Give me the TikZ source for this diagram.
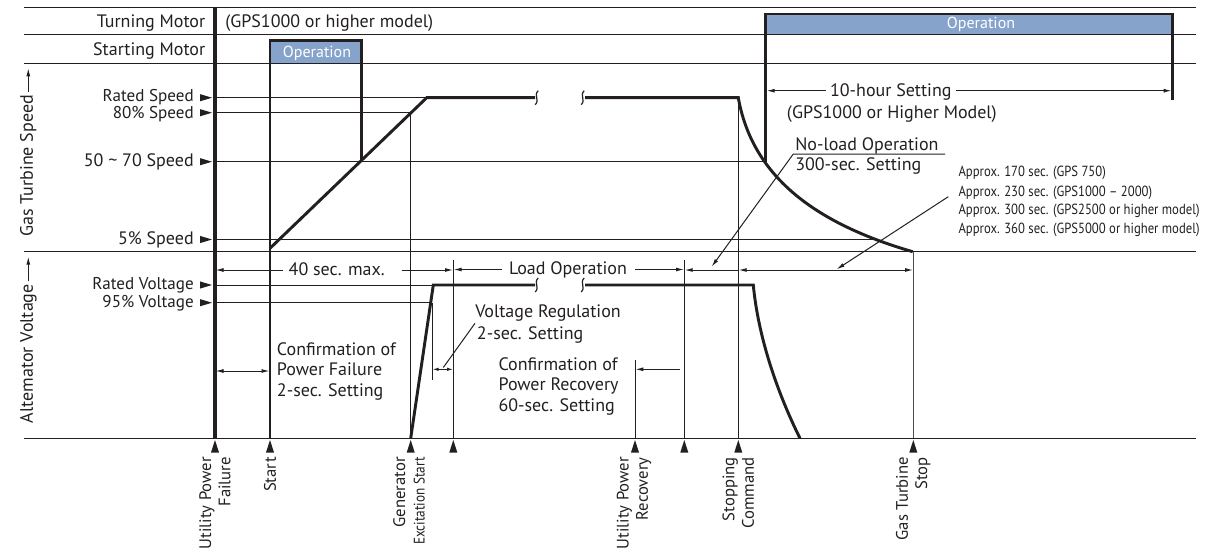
\documentclass[tikz,border=0pt]{standalone}
\usepackage{fontspec}
\setmainfont{PT Sans}
\newfontfamily\condfont[FakeStretch=0.865]{PT Sans}
\usetikzlibrary{arrows.meta}
\definecolor{ink}{RGB}{35,31,32}
\definecolor{opblue}{RGB}{134,163,203}
\begin{document}
\begin{tikzpicture}[x=0.75pt,y=-0.75pt,
  hair/.style={line width=0.75pt, draw=ink},
  bold/.style={line width=2.2pt, draw=ink, line join=miter},
  dimtip/.style={hair, -{Latex[length=6pt,width=3pt]}},
  dimboth/.style={hair, {Latex[length=6pt,width=3pt]}-{Latex[length=6pt,width=3pt]}},
  dimsmall/.style={hair, {Latex[length=4.5pt,width=2.6pt]}-{Latex[length=4.5pt,width=2.6pt]}},
  lbl/.style={font=\fontsize{13.5}{15.5}\selectfont, text=ink, inner sep=0pt},
  lblc/.style={font=\fontsize{12.8}{15}\selectfont, text=ink, inner sep=0pt},
  oplbl/.style={font=\fontsize{12}{14}\selectfont, text=white, inner sep=0pt},
  small/.style={font=\condfont\fontsize{11}{13}\selectfont, text=ink, inner sep=0pt},
  evlbl/.style={font=\fontsize{12.5}{14.5}\selectfont, text=ink, inner sep=0pt, rotate=90, anchor=east, align=right},
  marker/.style={fill=ink, draw=none}]
\useasboundingbox (0,0) rectangle (1229,547);
% blue operation bars
\fill[opblue] (270,41.7) rectangle (361.7,63.3);
\fill[opblue] (765.7,14) rectangle (1172.7,34.3);
% row lines
\foreach \yy in {7.3,34.3,63.3,251.7,438.3}
  \draw[hair] (24,\yy) -- (1196,\yy);
% level lines
\draw[hair] (215,97.7) -- (426.7,97.7);
\draw[hair] (215,112.7) -- (411,112.7);
\draw[hair] (215,161.7) -- (765.7,161.7);
\draw[hair] (215,239.5) -- (877,239.5);
\draw[hair] (215,285) -- (433.3,285);
\draw[hair] (215,302.7) -- (432.3,302.7);
\draw[hair] (432.3,302.7) -- (432.3,380);
% level markers
\foreach \yy in {97.7,112.7,161.7,239.5,285,302.7}
  \fill[marker] (200,\yy-3.6) -- (212,\yy) -- (200,\yy+3.6) -- cycle;
% event lines
\draw[ink, line width=2.3pt] (215,7.3) -- (215,438.3);
\draw[bold] (270,438.3) -- (270,40.7) -- (361.7,40.7) -- (361.7,161.7);
\draw[hair] (410.7,112.7) -- (410.7,438.3);
\draw[hair] (453.3,260) -- (453.3,438.3);
\draw[hair] (635,360) -- (635,438.3);
\draw[hair] (684.3,260) -- (684.3,438.3);
\draw[hair] (738.3,97.7) -- (738.3,438.3);
\draw[line width=0.9pt, draw=ink!80] (913.3,251.7) -- (913.3,438.3);
\draw[bold] (765.7,161.7) -- (765.7,14) -- (1172.7,14) -- (1172.7,100);
% speed curve
\draw[bold] (270,248.3) -- (426.7,97.7) -- (535,97.7);
\draw[bold] (585,97.7) -- (738.3,97.7) .. controls (752,175) and (812.7,222.7) .. (912.7,251.7);
% voltage curve
\draw[bold] (410.7,438.3) -- (433.3,285) -- (535,285);
\draw[bold] (585,285) -- (753.3,285) .. controls (758,335) and (776,390) .. (800,438.3);
% break marks
\foreach \sx/\sy in {536.7/97.7, 582.7/97.7, 536.7/285, 582.7/285}
  \draw[ink, line width=0.9pt] (\sx+1.5,\sy-7) .. controls (\sx-3.5,\sy-2) and (\sx+3.5,\sy+2) .. (\sx-1.5,\sy+7);
% bottom event markers
\foreach \ex in {215,270,410.7,453.3,635,684.3,738.3,913.3}
  \fill[marker] (\ex,440) -- (\ex+4,452.5) -- (\ex-4,452.5) -- cycle;
% row labels
\node[lbl, anchor=base east] (rowTM) at (205.5,27.7) {Turning Motor};
\node[lbl, anchor=base east] (rowSM) at (205.5,55) {Starting Motor};
\node[lbl, anchor=base west] (gpsTM) at (225,27.7) {(GPS1000 or higher model)};
\node[oplbl, anchor=base] (opSM) at (317,57.3) {Operation};
\node[oplbl, anchor=base] (opTM) at (981,28.3) {Operation};
% level labels
\node[lblc, anchor=base east] (lvRS) at (194,101.4) {Rated Speed};
\node[lblc, anchor=base east] (lv80) at (194,118.4) {80\% Speed};
\node[lbl, anchor=base east] (lv50) at (194,166.4) {50 \textasciitilde{} 70 Speed};
\node[lbl, anchor=base east] (lv5) at (194,244.2) {5\% Speed};
\node[lblc, anchor=base east] (lvRV) at (194,289.2) {Rated Voltage};
\node[lblc, anchor=base east] (lv95) at (194,307.9) {95\% Voltage};
% axis labels
\coordinate (gtsTip) at (28.3,68.3);
\coordinate (avTip) at (28.3,256.7);
\node[lbl, rotate=90, anchor=west] (gts) at (28.3,237) {Gas Turbine Speed};
\node[lbl, rotate=90, anchor=west] (alv) at (28.3,423.3) {Altemator Voltage};
\draw[dimtip] ([yshift=2pt]gts.east) -- (gtsTip);
\draw[dimtip] ([yshift=2pt]alv.east) -- (avTip);
% 10-hour setting
\node[lbl, anchor=base] (tenh) at (890.8,96.7) {10-hour Setting};
\node[lbl, anchor=base west] (tenhB) at (786.7,118.3) {(GPS1000 or Higher Model)};
\draw[dimtip] (826,90.7) -- (766.7,90.7);
\draw[dimtip] (956,90.7) -- (1171.5,90.7);
% no-load
\node[lbl, anchor=base west] (nl1) at (795,150) {No-load Operation};
\node[lbl, anchor=base west] (nl2) at (795,170.7) {300-sec. Setting};
\draw[dimtip] (945,154) -- (793.3,154) -- (711.7,266.7);
% approx
\node[small, anchor=base west] (ap1) at (958.3,176.7) {Approx. 170 sec. (GPS 750)};
\node[small, anchor=base west] (ap2) at (958.3,196) {Approx. 230 sec. (GPS1000 – 2000)};
\node[small, anchor=base west] (ap3) at (958.3,214.3) {Approx. 300 sec. (GPS2500 or higher model)};
\node[small, anchor=base west] (ap4) at (958.3,233.3) {Approx. 360 sec. (GPS5000 or higher model)};
\draw[dimtip] (948.3,196.7) -- (836.7,269.3);
% 40 sec max
\node[lbl, anchor=base] (forty) at (336.7,275) {40 sec. max.};
\draw[dimtip] (283,270) -- (215.5,270);
\draw[dimtip] (401.7,270) -- (453,270);
% load operation
\node[lbl, anchor=base] (loadop) at (568,274.5) {Load Operation};
\draw[dimtip] (501.7,269.5) -- (453.7,269.5);
\draw[dimtip] (635,269.5) -- (684,269.5);
\draw[dimtip] (738.3,270) -- (684.7,270);
\draw[dimboth] (738.7,270) -- (913,270);
% power failure confirmation
\node[lbl, anchor=base west] (cpf1) at (276.7,355) {Confirmation of};
\node[lbl, anchor=base west] (cpf2) at (276.7,375.7) {Power Failure};
\node[lbl, anchor=base west] (cpf3) at (276.7,396.7) {2-sec. Setting};
\draw[dimboth] (215.5,371) -- (269.5,371);
% voltage regulation
\node[lbl, anchor=base west] (vr1) at (475,317.3) {Voltage Regulation};
\node[lbl, anchor=base west] (vr2) at (476.7,339.3) {2-sec. Setting};
\draw[dimsmall] (432.6,369.3) -- (453,369.3);
\draw[hair] (475,323.3) -- (443.3,367.5);
% power recovery confirmation
\node[lbl, anchor=base west] (cpr1) at (498.3,370.7) {Confirmation of};
\node[lbl, anchor=base west] (cpr2) at (498.3,390.7) {Power Recovery};
\node[lbl, anchor=base west] (cpr3) at (498.3,411.7) {60-sec. Setting};
\draw[dimtip] (680,369.3) -- (635.4,369.3);
% event labels
\node[evlbl] (eUPF) at (215,457) {Utility Power\\Failure};
\node[evlbl] (eStart) at (270,457) {Start};
\node[evlbl] (eGen) at (409,457) {Generator\\{\condfont\fontsize{11.5}{13}\selectfont Excitation Start}};
\node[evlbl] (eUPR) at (634,457) {Utility Power\\Recovery};
\node[evlbl] (eStop) at (738.3,457) {Stopping\\Command};
\node[evlbl] (eGTS) at (913.3,457) {Gas Turbine\\Stop};
\end{tikzpicture}
\end{document}
